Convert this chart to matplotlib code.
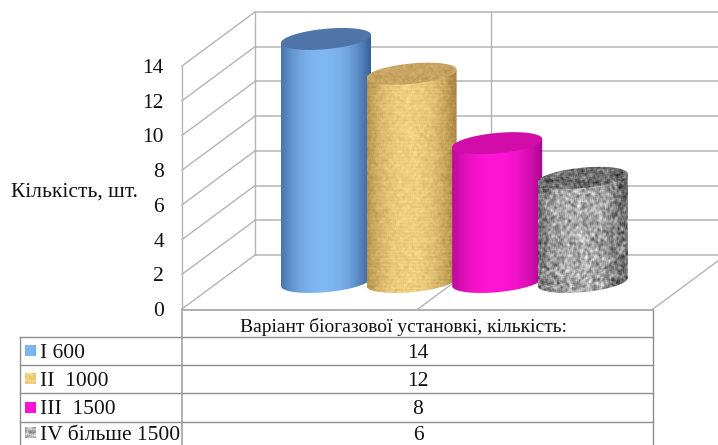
import numpy as np
import matplotlib
matplotlib.use('Agg')
import matplotlib.pyplot as plt
from matplotlib.patches import Polygon

plt.rcParams['font.family'] = ['Liberation Serif', 'DejaVu Serif']

categories = ['I 600', 'II  1000', 'III  1500', 'IV більше 1500']
values = [14, 12, 8, 6]
y_ticks = [0, 2, 4, 6, 8, 10, 12, 14]
y_label = 'Кількість, шт.'
header = 'Варіант біогазової установкі, кількість:'

PX_PER_UNIT = 17.36
FRONT_Y0, BACK_Y0 = 309, 255
FRONT_X0, BACK_X0, FRONT_X1 = 182, 255, 653
GRID = '#b4b4b4'
TABLE = '#8e8e8e'


def front_y(v):
    return FRONT_Y0 - v * PX_PER_UNIT


def back_y(v):
    return BACK_Y0 - v * PX_PER_UNIT


def hash_noise(h, w, k):
    # deterministic grain for the picture fills, box blurred with size k
    yy, xx = np.mgrid[0:h, 0:w]
    n = np.sin(xx * 12.9898 + yy * 78.233) * 43758.5453
    n = n - np.floor(n)
    out = np.zeros((h, w))
    for dy in range(k):
        for dx in range(k):
            out += np.roll(np.roll(n, dy, 0), dx, 1)
    out = out / (k * k)
    return (out - out.mean()) / out.std()


def side_fill(kind, w, h):
    u = np.linspace(0, 1, w)
    shade = np.clip(1 - (np.abs(u - 0.47) / 0.53) ** 2.2, 0, 1)
    shade = shade[None, :, None]
    if kind == 'blue':
        edge, mid = np.array([0.22, 0.38, 0.60]), np.array([0.50, 0.72, 0.95])
        return np.tile(edge + (mid - edge) * shade, (h, 1, 1))
    if kind == 'paper':
        edge, mid = np.array([0.66, 0.51, 0.25]), np.array([0.94, 0.81, 0.50])
        img = np.tile(edge + (mid - edge) * shade, (h, 1, 1))
        bands = np.sin(np.arange(h) * 1.9)[:, None, None] * 0.018
        return np.clip(img + bands + hash_noise(h, w, 3)[:, :, None] * 0.02, 0, 1)
    if kind == 'magenta':
        edge, mid = np.array([0.66, 0.03, 0.54]), np.array([1.0, 0.08, 0.83])
        return np.tile(edge + (mid - edge) * shade, (h, 1, 1))
    grain = hash_noise(h, w, 3)[:, :, None]
    level = 0.38 + 0.30 * shade + grain * 0.10
    return np.clip(np.repeat(level, 3, axis=2), 0, 1)


def top_fill(kind, w, h):
    if kind == 'blue':
        return np.tile(np.array([0.31, 0.46, 0.66]), (h, w, 1))
    if kind == 'paper':
        img = np.tile(np.array([0.78, 0.64, 0.38]), (h, w, 1))
        return np.clip(img + hash_noise(h, w, 3)[:, :, None] * 0.02, 0, 1)
    if kind == 'magenta':
        return np.tile(np.array([0.82, 0.05, 0.66]), (h, w, 1))
    level = 0.42 + hash_noise(h, w, 3)[:, :, None] * 0.08
    return np.clip(np.repeat(level, 3, axis=2), 0, 1)


def swatch_fill(kind):
    return side_fill(kind, 31, 11)[:, 10:21]


def cylinder(ax, left, value, kind, z):
    a, b, k = 45, 10.2, -0.09
    cx = left + a
    base = 282
    top = base - value * PX_PER_UNIT
    t = np.linspace(0, 2 * np.pi, 121)
    ell_x = cx + a * np.cos(t)
    ell_y = b * np.sin(t) + k * a * np.cos(t)
    # lower half of the base, then back up over the top rim
    low = np.linspace(np.pi, 0, 61)
    body_x = cx + a * np.cos(low)
    body_y = base + b * np.sin(low) + k * a * np.cos(low)
    outline = np.column_stack([
        np.r_[body_x, cx + a, cx - a],
        np.r_[body_y, top + k * a, top - k * a],
    ])
    ext = [left, left + 2 * a, base + 12, top - 12]
    h = int(ext[2] - ext[3])
    im = ax.imshow(side_fill(kind, 2 * a, h), extent=ext, aspect='auto', zorder=z,
                   interpolation='bilinear')
    im.set_clip_path(Polygon(outline, transform=ax.transData))
    ext2 = [left, left + 2 * a, top + 12, top - 12]
    im2 = ax.imshow(top_fill(kind, 2 * a, 24), extent=ext2, aspect='auto', zorder=z + 0.5,
                    interpolation='bilinear')
    im2.set_clip_path(Polygon(np.column_stack([ell_x, top + ell_y]), transform=ax.transData))


fig = plt.figure(figsize=(7.18, 4.45), dpi=100)
ax = fig.add_axes([0, 0, 1, 1])

# walls and floor
for v in y_ticks:
    ax.plot([FRONT_X0, BACK_X0], [front_y(v), back_y(v)], color=GRID, lw=1, zorder=1)
    ax.plot([BACK_X0, 718], [back_y(v), back_y(v)], color=GRID, lw=1.1, zorder=1)
    ax.text(164, front_y(v), str(v), ha='right', va='center_baseline', fontsize=15.5,
            color='#111111')
ax.plot([FRONT_X0, FRONT_X0], [front_y(0), front_y(14)], color=GRID, lw=1, zorder=1)
ax.plot([BACK_X0, BACK_X0], [back_y(0), back_y(14)], color=GRID, lw=1, zorder=1)
ax.plot([491, 491], [back_y(0), back_y(14)], color=GRID, lw=1, zorder=1)
ax.plot([418, 491], [FRONT_Y0, BACK_Y0], color=GRID, lw=1, zorder=1)
ax.plot([FRONT_X1, 726], [FRONT_Y0, BACK_Y0], color=GRID, lw=1, zorder=1)

ax.text(11, 190, y_label, ha='left', va='center_baseline', fontsize=15.5, color='#111111')

kinds = ['blue', 'paper', 'magenta', 'granite']
for i, val in enumerate(values):
    cylinder(ax, 281 + i * 85.6, val, kinds[i], 5 + i)

# data table under the plot
row_lines = [337, 365, 393, 422]
ax.plot([FRONT_X0, FRONT_X1], [310, 310], color='#b0b0b0', lw=1.4, zorder=2)
ax.plot([FRONT_X0, FRONT_X0], [309, 445], color='#b0b0b0', lw=1.4, zorder=2)
ax.plot([FRONT_X1, FRONT_X1], [310, 445], color=TABLE, lw=1, zorder=2)
ax.plot([19.5, 19.5], [337, 445], color=TABLE, lw=1, zorder=2)
for y in row_lines:
    ax.plot([19.5, FRONT_X1], [y, y], color=TABLE, lw=1, zorder=2)
ax.text(403, 325, header, ha='center', va='center_baseline', fontsize=14, color='#111111')

for i, name in enumerate(categories):
    # last row is cut by the image edge, so its text sits a little higher
    cy = (row_lines[i] + row_lines[i + 1]) / 2 if i < 3 else 433
    ax.imshow(swatch_fill(kinds[i]), extent=[25, 36, cy + 5.5, cy - 5.5], aspect='auto', zorder=3)
    ax.text(40, cy, name, ha='left', va='center_baseline', fontsize=15.5, color='#111111')
    ax.text(418, cy, str(values[i]), ha='center', va='center_baseline', fontsize=15.5,
            color='#111111')

ax.set_xlim(0, 718)
ax.set_ylim(445, 0)
ax.axis('off')
fig.savefig('out.png', dpi=100)
